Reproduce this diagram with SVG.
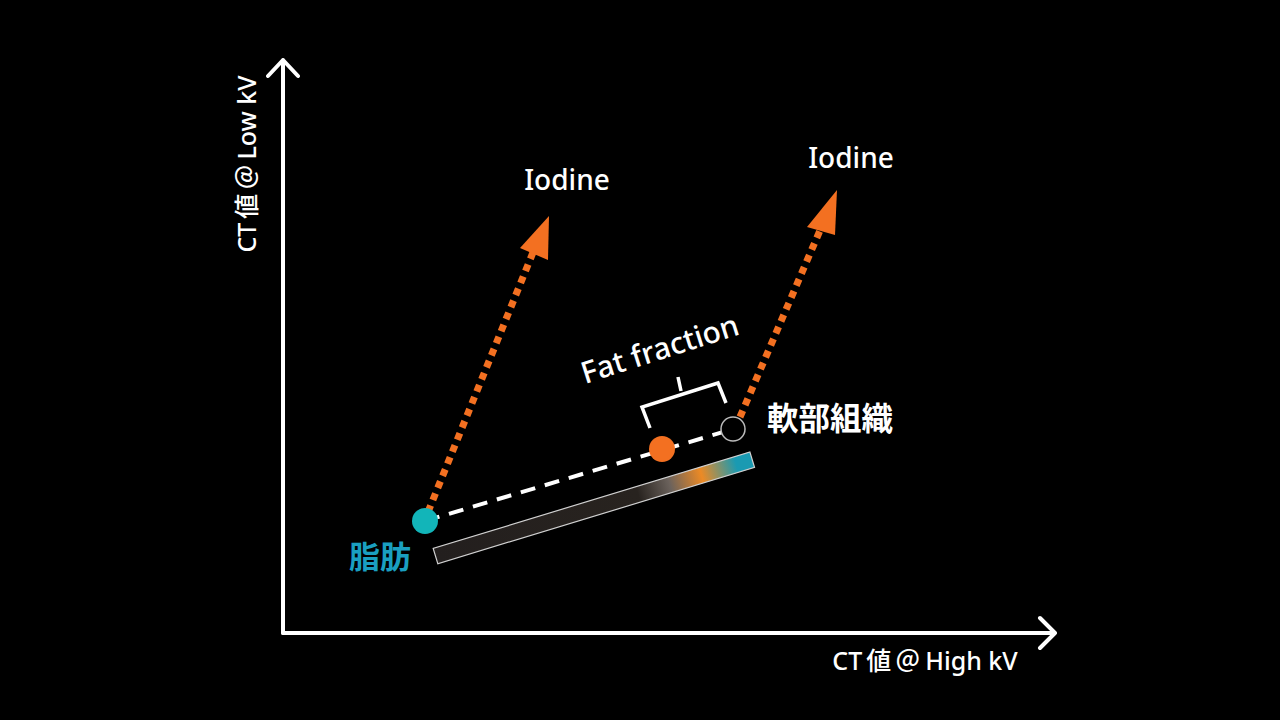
<svg xmlns="http://www.w3.org/2000/svg" width="1280" height="720" viewBox="0 0 1280 720">
<defs>
<style>
.t{font-family:"Noto Sans","Noto Sans CJK JP",sans-serif;fill:#fff;}
.cjk{font-family:"Noto Sans CJK JP",sans-serif;}
.axis{stroke:#fff;stroke-width:4;fill:none;stroke-linecap:round;stroke-linejoin:round;}
.dot{stroke:#F37021;stroke-width:7;stroke-dasharray:7 6;fill:none;}
.head{fill:#F37021;}
</style>
<linearGradient id="g" x1="0" y1="0" x2="1" y2="0">
<stop offset="0" stop-color="#231f1e"/>
<stop offset="0.64" stop-color="#28231f"/>
<stop offset="0.74" stop-color="#6b625c"/>
<stop offset="0.84" stop-color="#ec8a25"/>
<stop offset="0.95" stop-color="#1a9ab2"/>
<stop offset="1" stop-color="#1a9ab2"/>
</linearGradient>
</defs>
<rect width="1280" height="720" fill="#000"/>
<g id="axes">
<path class="axis" d="M283,633 V60 M268,76 L283,60 L298,76"/>
<path class="axis" d="M283,633 H1055 M1040,618 L1055,633 L1040,648"/>
<text class="t" font-size="25" font-weight="500" transform="translate(256,164) rotate(-90)" text-anchor="middle">CT<tspan class="cjk" dx="4">値</tspan><tspan class="cjk" dx="4">＠</tspan><tspan dx="5">Low kV</tspan></text>
<text class="t" font-size="25" font-weight="500" x="925" y="670" text-anchor="middle">CT<tspan class="cjk" dx="4">値</tspan><tspan class="cjk" dx="4">＠</tspan><tspan dx="5">High kV</tspan></text>
</g>
<g id="bar">
<rect x="0" y="-8" width="331" height="16" fill="url(#g)" stroke="#d0d0d0" stroke-width="1.2" transform="translate(435.5,556) rotate(-16.9)"/>
</g>
<g id="connectors">
<line x1="425" y1="521" x2="733" y2="429" stroke="#fff" stroke-width="4" stroke-dasharray="15 10"/>
<line class="dot" x1="428" y1="512" x2="536" y2="245"/>
<polygon class="head" points="549,216 520,248 548,260"/>
<line class="dot" x1="740" y1="417" x2="824" y2="221"/>
<polygon class="head" points="837,190 807,227 835,235"/>
</g>
<g id="fat">
<circle cx="425" cy="521" r="13" fill="#12b5b9"/>
<text class="t" font-size="31" font-weight="700" x="380" y="568" text-anchor="middle" style="fill:#1a9fc0">脂肪</text>
</g>
<g id="mid">
<circle cx="662" cy="449" r="13" fill="#F37021"/>
</g>
<g id="soft">
<circle cx="733" cy="429" r="12" fill="#000" stroke="#bbb" stroke-width="1.5"/>
<text class="t" font-size="31.5" font-weight="700" x="830" y="430" text-anchor="middle">軟部組織</text>
</g>
<g id="fraction">
<path d="M650,428 L642,407 L718,383 L726,403 M678,377 L681,391" stroke="#fff" stroke-width="3.5" fill="none"/>
<text class="t" font-size="30" font-weight="500" transform="translate(663,359) rotate(-17.7)" text-anchor="middle">Fat fraction</text>
</g>
<g id="iodine1"><text class="t" font-size="28" font-weight="500" x="567" y="190" text-anchor="middle">Iodine</text></g>
<g id="iodine2"><text class="t" font-size="28" font-weight="500" x="851" y="168" text-anchor="middle">Iodine</text></g>
</svg>
